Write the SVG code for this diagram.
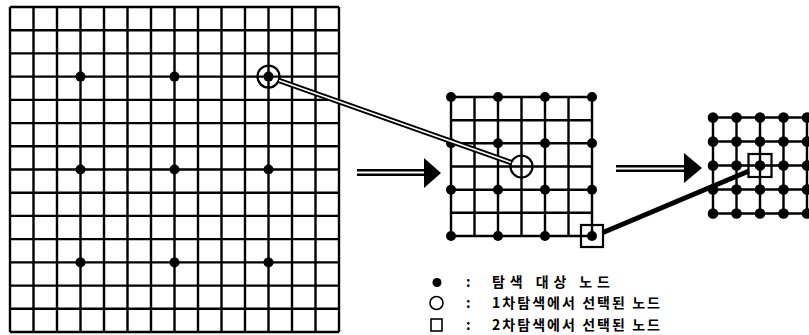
<svg xmlns="http://www.w3.org/2000/svg" width="809" height="335" viewBox="0 0 809 335">
<style>
.grid{fill:none;stroke:#000;stroke-width:2.4}
.dot{fill:#000}
.sel{fill:none;stroke:#000;stroke-width:2.2}
.txt{font-family:"Noto Sans CJK KR","Noto Sans",sans-serif;font-size:14px;font-weight:bold;fill:#000}
.dbl-o{fill:none;stroke:#000;stroke-width:5.5}
.dbl-i{fill:none;stroke:#fff;stroke-width:1.5}
.arr-o{fill:none;stroke:#000;stroke-width:7}
.arr-i{fill:none;stroke:#fff;stroke-width:2}
</style>
<rect width="809" height="335" fill="#fff"/>

<g id="grid-left">
<path class="grid" d="M10,7V332M33.5,7V332M57,7V332M80.5,7V332M104,7V332M127.5,7V332M151,7V332M174.5,7V332M198,7V332M221.5,7V332M245,7V332M268.5,7V332M292,7V332M315.5,7V332M339,7V332
M10,7H339M10,30.2H339M10,53.4H339M10,76.6H339M10,99.9H339M10,123.1H339M10,146.3H339M10,169.5H339M10,192.7H339M10,215.9H339M10,239.1H339M10,262.4H339M10,285.6H339M10,308.8H339M10,332H339"/>
<g class="dot">
<circle cx="80.5" cy="76.6" r="5"/><circle cx="174.5" cy="76.6" r="5"/><circle cx="268.5" cy="76.6" r="5"/>
<circle cx="80.5" cy="169.5" r="5"/><circle cx="174.5" cy="169.5" r="5"/><circle cx="268.5" cy="169.5" r="5"/>
<circle cx="80.5" cy="262.4" r="5"/><circle cx="174.5" cy="262.4" r="5"/><circle cx="268.5" cy="262.4" r="5"/>
</g>
<circle class="sel" cx="268.5" cy="76.6" r="11"/>
</g>

<g id="grid-middle">
<path class="grid" d="M451,97V236M474.5,97V236M498,97V236M521.5,97V236M545,97V236M568.5,97V236M592,97V236
M451,97H592M451,120.2H592M451,143.3H592M451,166.5H592M451,189.7H592M451,212.8H592M451,236H592"/>
<g class="dot">
<circle cx="451" cy="97" r="5"/><circle cx="498" cy="97" r="5"/><circle cx="545" cy="97" r="5"/><circle cx="592" cy="97" r="5"/>
<circle cx="451" cy="143.3" r="5"/><circle cx="498" cy="143.3" r="5"/><circle cx="545" cy="143.3" r="5"/><circle cx="592" cy="143.3" r="5"/>
<circle cx="451" cy="189.7" r="5"/><circle cx="498" cy="189.7" r="5"/><circle cx="545" cy="189.7" r="5"/><circle cx="592" cy="189.7" r="5"/>
<circle cx="451" cy="236" r="5"/><circle cx="498" cy="236" r="5"/><circle cx="545" cy="236" r="5"/><circle cx="592" cy="236" r="5"/>
</g>
<circle class="sel" cx="521.5" cy="166.5" r="11"/>
<rect class="sel" x="581" y="225" width="22" height="22"/>
</g>

<g id="grid-right">
<path class="grid" d="M713,117.5V213.5M736.5,117.5V213.5M760,117.5V213.5M783.5,117.5V213.5M807,117.5V213.5
M713,117.5H807M713,141.5H807M713,165.5H807M713,189.5H807M713,213.5H807"/>
<g class="dot">
<circle cx="713" cy="117.5" r="5.3"/><circle cx="736.5" cy="117.5" r="5.3"/><circle cx="760" cy="117.5" r="5.3"/><circle cx="783.5" cy="117.5" r="5.3"/><circle cx="807" cy="117.5" r="5.3"/>
<circle cx="713" cy="141.5" r="5.3"/><circle cx="736.5" cy="141.5" r="5.3"/><circle cx="760" cy="141.5" r="5.3"/><circle cx="783.5" cy="141.5" r="5.3"/><circle cx="807" cy="141.5" r="5.3"/>
<circle cx="713" cy="165.5" r="5.3"/><circle cx="736.5" cy="165.5" r="5.3"/><circle cx="760" cy="165.5" r="5.3"/><circle cx="783.5" cy="165.5" r="5.3"/><circle cx="807" cy="165.5" r="5.3"/>
<circle cx="713" cy="189.5" r="5.3"/><circle cx="736.5" cy="189.5" r="5.3"/><circle cx="760" cy="189.5" r="5.3"/><circle cx="783.5" cy="189.5" r="5.3"/><circle cx="807" cy="189.5" r="5.3"/>
<circle cx="713" cy="213.5" r="5.3"/><circle cx="736.5" cy="213.5" r="5.3"/><circle cx="760" cy="213.5" r="5.3"/><circle cx="783.5" cy="213.5" r="5.3"/><circle cx="807" cy="213.5" r="5.3"/>
</g>
<rect class="sel" x="748.5" y="154" width="23" height="23"/>
</g>

<g id="connectors">
<path class="dbl-o" d="M279,80.5L511,162.5"/>
<path class="dbl-i" d="M279,80.5L511,162.5"/>
<path d="M603,232.5L749,171" fill="none" stroke="#000" stroke-width="5"/>
<path class="arr-o" d="M357,172.5H425"/>
<path class="arr-i" d="M357,172.5H425"/>
<path d="M424,158L441,173L424,188Z" fill="#000"/>
<path class="arr-o" d="M616,168.5H685"/>
<path class="arr-i" d="M616,168.5H685"/>
<path d="M684,153L702,168L684,183Z" fill="#000"/>
</g>

<g id="legend">
<g id="legend-dot">
<circle cx="437" cy="282.5" r="4.5" fill="#000"/>
<text class="txt" x="466" y="287">:</text>
<text class="txt" x="492" y="287" textLength="118" lengthAdjust="spacing">탐색 대상 노드</text>
</g>
<g id="legend-circle">
<circle cx="436.5" cy="303" r="6.5" fill="none" stroke="#000" stroke-width="1.6"/>
<text class="txt" x="466" y="308">:</text>
<text class="txt" x="492" y="308" textLength="168" lengthAdjust="spacing">1차탐색에서 선택된 노드</text>
</g>
<g id="legend-square">
<rect x="431" y="319" width="11" height="12" fill="none" stroke="#000" stroke-width="1.6"/>
<text class="txt" x="466" y="330">:</text>
<text class="txt" x="492" y="330" textLength="168" lengthAdjust="spacing">2차탐색에서 선택된 노드</text>
</g>
</g>
</svg>
